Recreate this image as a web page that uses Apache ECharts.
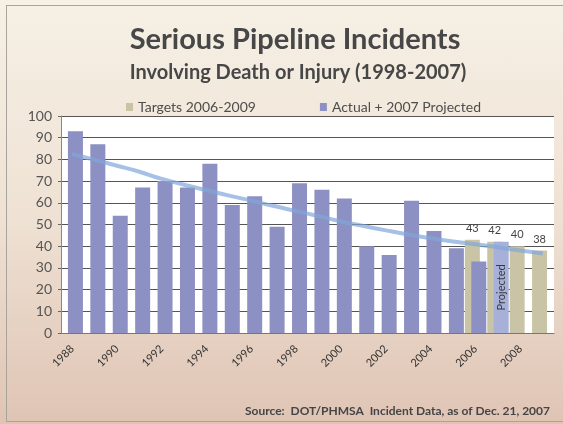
<!DOCTYPE html>
<html>
<head>
<meta charset="utf-8">
<script src="https://cdn.jsdelivr.net/npm/echarts@6/dist/echarts.min.js"></script>
<style>
  html, body { margin: 0; padding: 0; }
  body {
    width: 563px; height: 424px; overflow: hidden; position: relative;
    background: linear-gradient(to bottom, #f6f0e5 0%, #efe2d4 50%, #dfc4b4 100%);
  }
  #frame {
    position: absolute; left: 6px; top: 5px; width: 560px; height: 415px;
    border-left: 1px solid #a8a39c; border-top: 1px solid #a8a39c; border-bottom: 1px solid #a8a39c;
  }
  #main { position: absolute; left: 0; top: 0; width: 563px; height: 424px; }
</style>
</head>
<body>
<div id="frame"></div>
<div id="main"></div>
<script>
const years = ['1988', '1989', '1990', '1991', '1992', '1993', '1994', '1995', '1996', '1997', '1998',
  '1999', '2000', '2001', '2002', '2003', '2004', '2005', '2006', '2007', '2008', '2009'];
// 2007 is the projected value
const actual = [93, 87, 54, 67, 70, 67, 78, 59, 63, 49, 69, 66, 62, 40, 36, 61, 47, 39, 33, 42, null, null];
const targets = [null, null, null, null, null, null, null, null, null, null, null,
  null, null, null, null, null, null, null, 43, 42, 40, 38];
const trend = [82.5, 79.8, 77.1, 74.3, 71, 68.3, 65.8, 63.3, 61, 58.5, 56.2,
  53.8, 51.4, 49.3, 47.3, 45.4, 43.7, 42.2, 40.9, 39.5, 38, 36.6];
const yTicks = [0, 10, 20, 30, 40, 50, 60, 70, 80, 90, 100];

let myChart = echarts.init(document.getElementById('main'));

let actualData = actual.map((v, i) => {
  if (years[i] === '2007') {
    return {
      value: v,
      itemStyle: { color: '#a6b0d8' },
      label: { show: true, position: 'inside', rotate: 90, offset: [0, 0],
        formatter: 'Projected', color: '#3a3a3a', fontSize: 11, fontFamily: 'Lato' }
    };
  }
  return v;
});

let option = {
  textStyle: { fontFamily: 'Lato' },
  title: [
    {
      text: 'Serious Pipeline Incidents',
      left: 290, top: 20, textAlign: 'center',
      textStyle: { fontSize: 29, fontWeight: 'bold', color: '#474747', fontFamily: 'Lato' }
    },
    {
      text: 'Involving Death or Injury (1998-2007)',
      left: 293, top: 58, textAlign: 'center',
      textStyle: { fontSize: 20, fontWeight: 'bold', color: '#474747', fontFamily: 'Lato' }
    },
    {
      text: 'Source:  DOT/PHMSA  Incident Data, as of Dec. 21, 2007',
      right: 8, top: 400,
      textStyle: { fontSize: 12, fontWeight: 'bold', color: '#454545', fontFamily: 'Lato' }
    }
  ],
  legend: {
    left: 121, top: 95, itemGap: 64,
    itemWidth: 7, itemHeight: 8,
    icon: 'rect',
    textStyle: { fontSize: 14, color: '#4d4d4d', fontFamily: 'Lato' },
    data: ['Targets 2006-2009', 'Actual + 2007 Projected']
  },
  grid: { left: 61, right: 9, top: 116, bottom: 91 },
  xAxis: {
    type: 'category',
    data: years,
    axisLine: { lineStyle: { color: '#777' } },
    axisTick: { show: false },
    axisLabel: { interval: 1, rotate: 45, fontSize: 11, color: '#333', margin: 14 }
  },
  yAxis: {
    type: 'value',
    min: 0, max: 100, interval: 10,
    axisLine: { show: true, lineStyle: { color: '#888' } },
    axisTick: { show: true, length: 3, lineStyle: { color: '#666' } },
    axisLabel: { fontSize: 14, color: '#555', margin: 9,
      formatter: v => yTicks.includes(v) ? String(v) : '' },
    splitLine: { lineStyle: { color: '#555', width: 1 } },
    splitArea: { show: true, areaStyle: { color: ['#ffffff', '#ffffff'] } }
  },
  series: [
    {
      name: 'Targets 2006-2009',
      type: 'bar',
      barWidth: 15,
      barGap: '-57%',
      itemStyle: { color: '#c9c4a6' },
      label: { show: true, position: 'top', distance: 6, fontSize: 11, color: '#444', fontFamily: 'Lato' },
      data: targets
    },
    {
      name: 'Actual + 2007 Projected',
      type: 'bar',
      barWidth: 15,
      itemStyle: { color: '#8d90c3' },
      data: actualData
    },
    {
      name: 'trend',
      type: 'line',
      smooth: true,
      symbol: 'none',
      z: 5,
      lineStyle: { color: '#80a6da', width: 4, opacity: 0.7 },
      data: trend
    }
  ]
};
myChart.setOption(option);
</script>
</body>
</html>
